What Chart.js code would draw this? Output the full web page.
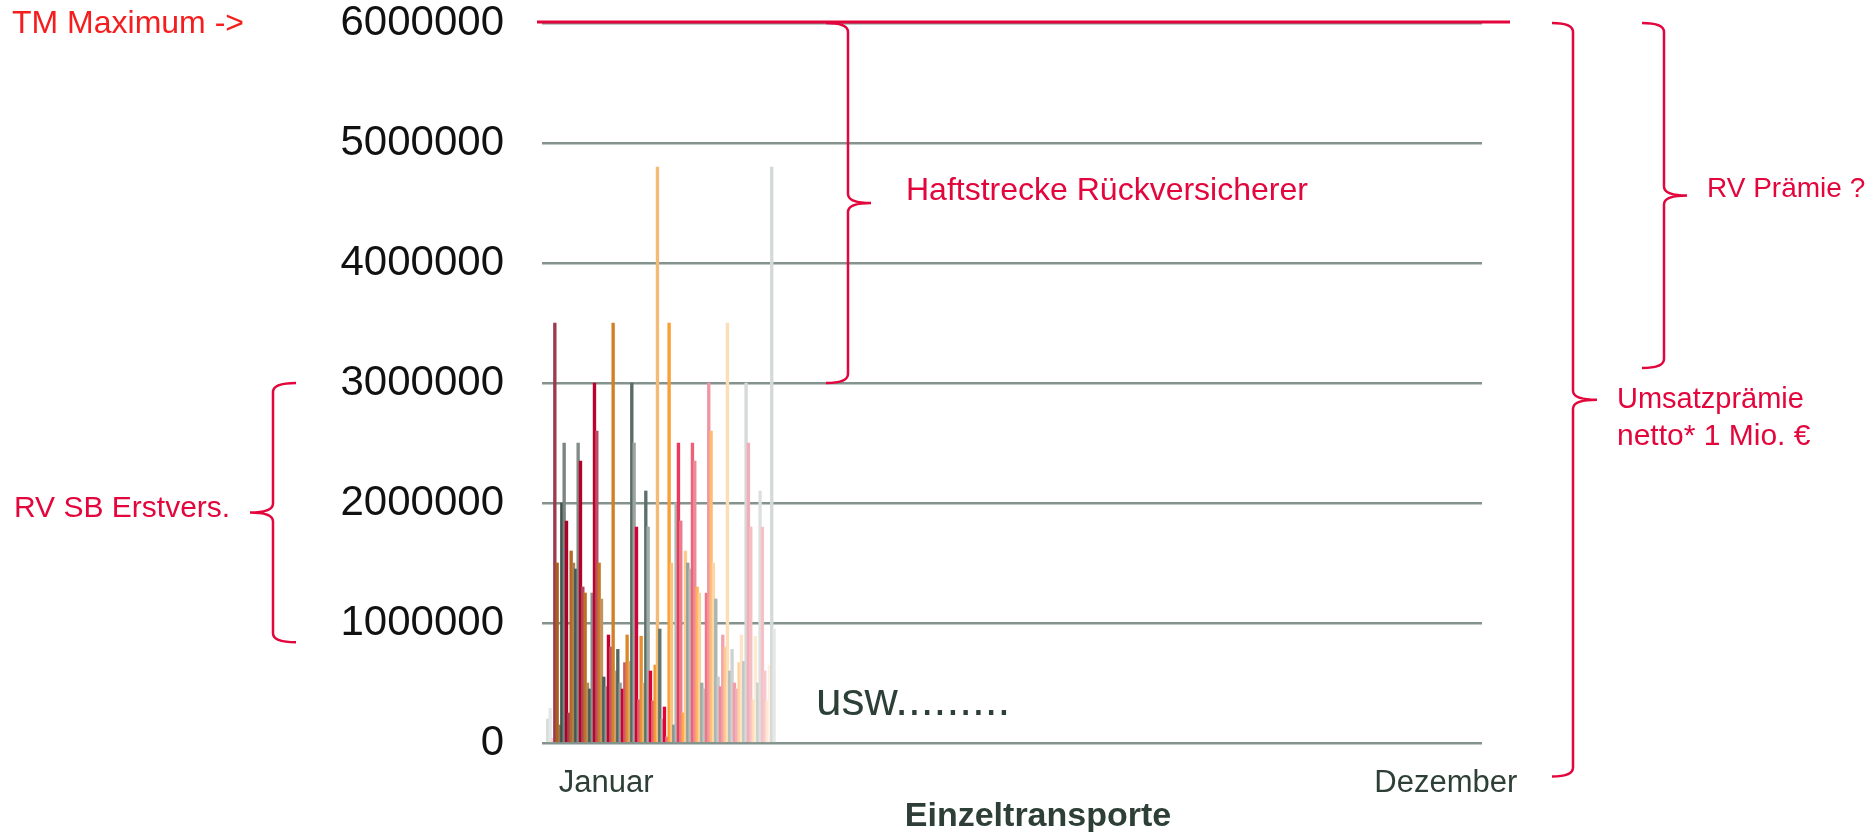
<!DOCTYPE html>
<html lang="de">
<head>
<meta charset="utf-8">
<title>Einzeltransporte</title>
<script src="https://cdn.jsdelivr.net/npm/chart.js"></script>
<style>
  html, body { margin: 0; padding: 0; background: #fff; }
  #chart { display: block; }
</style>
</head>
<body>
<canvas id="chart" width="1870" height="832"></canvas>
<script>
// Versicherungssumme je Einzeltransport (EUR), in Reihenfolge der Transporte
const transportValues = [
    200000, 290000, 40000, 3500000, 1500000, 150000, 2000000, 2500000,
    1850000, 250000, 1600000, 1500000, 1450000, 2500000,
    2350000, 1300000, 1250000, 500000, 450000, 1250000,
    3000000, 2600000, 1500000, 1200000, 550000, 470000,
    900000, 800000, 3500000, 600000, 780000, 500000,
    450000, 670000, 900000, 680000, 3000000, 2500000,
    1800000, 360000, 890000, 500000, 2100000, 1800000,
    600000, 350000, 650000, 4800000, 950000, 200000,
    300000, 50000, 3500000, 1500000, 150000, 2000000,
    2500000, 1850000, 250000, 1600000, 1500000, 1450000,
    2500000, 2350000, 1300000, 1250000, 500000, 450000,
    1250000, 3000000, 2600000, 1500000, 1200000, 550000,
    470000, 900000, 800000, 3500000, 600000, 780000,
    500000, 450000, 670000, 900000, 680000, 3000000,
    2500000, 1800000, 360000, 890000, 500000, 2100000,
    1800000, 600000, 350000, 650000, 4800000, 950000
];

// x-Achse: Jahr als Folge von Transport-Plätzen, beschriftet nur Januar / Dezember
const slotCount = 403;
const firstTransportSlot = 2;
const monthLabels = ['Januar', 'Dezember'];
const monthSlots = [27, 387];
const xAxisTitle = 'Einzeltransporte';

// y-Achse
const yMin = 0;
const yMax = 6000000;
const yStep = 1000000;
const tmMaximum = 6000000;

// Klammern: Wertebereich (von / bis) auf der y-Achse
const braceRanges = [
    [3000000, 840000],   // RV SB Erstvers.
    [6000000, 3000000],  // Haftstrecke Rückversicherer
    [6000000, -280000],  // Umsatzprämie
    [6000000, 3125000]   // RV Prämie ?
];

// ---------- Farben ----------
const seriesPalette = [
    [[0, '#a50027'], [0.5, '#e6003a'], [0.6, '#ec5a70'], [1, '#f8d0d6']],
    [[0, '#9b3a50'], [0.45, '#e66478'], [1, '#f8d2d6']],
    [[0, '#a8601e'], [0.55, '#ffa232'], [1, '#ffebdc']],
    [[0, '#9c7048'], [0.5, '#fac078'], [1, '#fff2e6']],
    [[0, '#3f504a'], [0.48, '#62766e'], [0.55, '#8a9a94'], [1, '#d6dcda']],
    [[0, '#76807c'], [0.5, '#a8b2ae'], [1, '#e4e8e6']]
];

function hexToRgb(hex) {
    const n = parseInt(hex.slice(1), 16);
    return [(n >> 16) & 255, (n >> 8) & 255, n & 255];
}

function shade(stops, t) {
    for (let k = 1; k < stops.length; k++) {
        if (t <= stops[k][0] || k === stops.length - 1) {
            const [t0, c0] = stops[k - 1];
            const [t1, c1] = stops[k];
            const f = Math.max(0, Math.min(1, (t - t0) / (t1 - t0)));
            const a = hexToRgb(c0), b = hexToRgb(c1);
            return `rgb(${a.map((v, j) => Math.round(v + (b[j] - v) * f)).join(',')})`;
        }
    }
}

function barColor(i) {
    const n = transportValues.length;
    const t = Math.min(1, ((i + n - 3) % n) / (n - 4));
    return shade(seriesPalette[(i + 4) % 6], t);
}

// ---------- Daten für Chart.js ----------
const labels = Array.from({ length: slotCount }, () => '');
monthSlots.forEach((s, k) => { labels[s] = monthLabels[k]; });

const slotValues = Array(slotCount).fill(null);
const slotColors = Array(slotCount).fill('transparent');
transportValues.forEach((v, i) => {
    slotValues[firstTransportSlot + i] = v;
    slotColors[firstTransportSlot + i] = barColor(i);
});

// ---------- Beschriftungen ----------
const crimson = '#e2063c';
const darkText = '#2d3f37';
const fontFamily = '"Liberation Sans", Arial, sans-serif';

function drawBrace(ctx, x, end, tip, yTop, yBot) {
    const r = 9;
    const yMid = (yTop + yBot) / 2;
    ctx.beginPath();
    ctx.moveTo(end, yTop);
    ctx.quadraticCurveTo(x, yTop, x, yTop + r);
    ctx.lineTo(x, yMid - r);
    ctx.quadraticCurveTo(x, yMid, tip, yMid);
    ctx.quadraticCurveTo(x, yMid, x, yMid + r);
    ctx.lineTo(x, yBot - r);
    ctx.quadraticCurveTo(x, yBot, end, yBot);
    ctx.stroke();
}

const annotations = {
    id: 'annotations',
    afterDraw(chart) {
        const { ctx, chartArea, scales: { x, y } } = chart;
        ctx.save();

        // TM Maximum Linie
        const yTm = y.getPixelForValue(tmMaximum) - 1;
        ctx.strokeStyle = crimson;
        ctx.lineWidth = 3;
        ctx.beginPath();
        ctx.moveTo(chartArea.left - 5, yTm);
        ctx.lineTo(chartArea.right + 28, yTm);
        ctx.stroke();

        // Klammern
        const braceShapes = [
            { x: 273, end: 296, tip: 250 },
            { x: 848, end: 826, tip: 871 },
            { x: 1573, end: 1552, tip: 1597 },
            { x: 1664, end: 1642, tip: 1687 }
        ];
        ctx.lineWidth = 2.5;
        braceShapes.forEach((b, k) => {
            const [from, to] = braceRanges[k];
            drawBrace(ctx, b.x, b.end, b.tip, y.getPixelForValue(from), y.getPixelForValue(to));
        });

        // Texte
        const notes = [
            { text: 'TM Maximum ->', x: 12, y: 33, size: 32, color: '#f41e1e' },
            { text: 'RV SB Erstvers.', x: 14, y: 517, size: 30 },
            { text: 'Haftstrecke Rückversicherer', x: 906, y: 200, size: 32 },
            { text: 'RV Prämie ?', x: 1707, y: 197, size: 28 },
            { text: 'Umsatzprämie', x: 1617, y: 408, size: 29 },
            { text: 'netto* 1 Mio. €', x: 1617, y: 445, size: 30 },
            { text: 'usw.........', x: 816, y: 715, size: 46, color: '#2d4038' }
        ];
        ctx.textAlign = 'left';
        ctx.textBaseline = 'alphabetic';
        notes.forEach(n => {
            ctx.font = `${n.size}px ${fontFamily}`;
            ctx.fillStyle = n.color || crimson;
            ctx.fillText(n.text, n.x, n.y);
        });

        // Achsentitel unter der x-Achse
        ctx.font = `bold 34px ${fontFamily}`;
        ctx.fillStyle = darkText;
        ctx.textAlign = 'center';
        ctx.fillText(xAxisTitle, 1038, x.bottom - 6);

        ctx.restore();
    }
};

Chart.defaults.font.family = fontFamily;

new Chart(document.getElementById('chart'), {
    type: 'bar',
    data: {
        labels,
        datasets: [{
            data: slotValues,
            backgroundColor: slotColors,
            borderWidth: 0,
            barThickness: 2.7
        }]
    },
    options: {
        responsive: false,
        animation: false,
        devicePixelRatio: 1,
        layout: { padding: { top: 23, right: 388, bottom: 0, left: 0 } },
        plugins: {
            legend: { display: false },
            tooltip: { enabled: false }
        },
        scales: {
            x: {
                grid: { display: false, drawTicks: false },
                border: { display: false },
                ticks: {
                    autoSkip: false,
                    maxRotation: 0,
                    padding: 22,
                    color: darkText,
                    font: { size: 31 }
                },
                afterFit: s => { s.height = 89; }
            },
            y: {
                min: yMin,
                max: yMax,
                border: { display: false },
                grid: { color: '#84938d', lineWidth: 2.5, drawTicks: false },
                ticks: {
                    stepSize: yStep,
                    padding: 38,
                    color: '#111',
                    font: { size: 42 },
                    callback: v => String(v)
                },
                afterFit: s => {
                    s.width = 542;
                    s.paddingTop = 0;
                    s.paddingBottom = 0;
                }
            }
        }
    },
    plugins: [annotations]
});
</script>
</body>
</html>
